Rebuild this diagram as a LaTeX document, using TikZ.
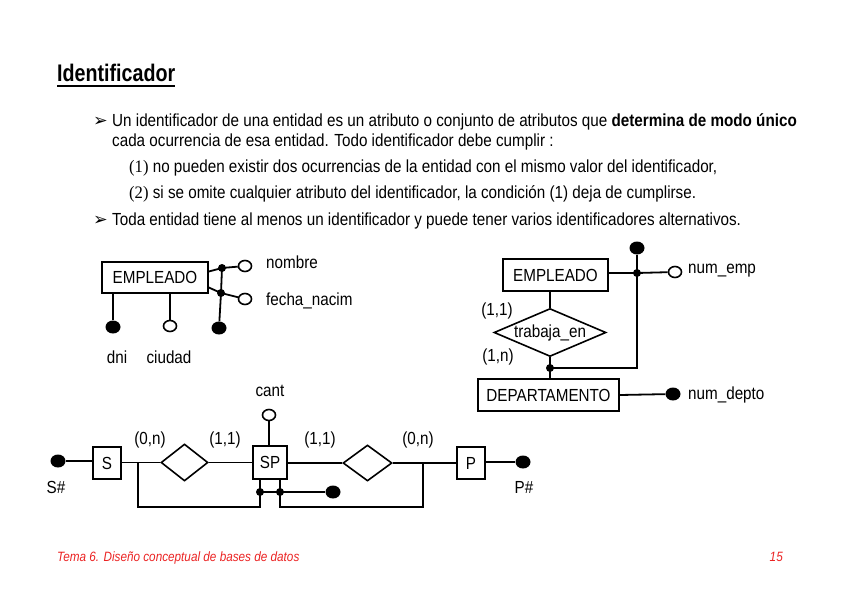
\documentclass[tikz,border=0pt]{standalone}
\usepackage{fontspec}
\setmainfont[FakeStretch=0.87]{Liberation Sans}
\newfontfamily\titlefont[FakeStretch=0.82]{Liberation Sans}
\newfontfamily\serifnum[FakeStretch=0.95]{Liberation Serif}
\newfontfamily\symfont{DejaVu Sans}
\usetikzlibrary{shapes.geometric,calc}
\definecolor{footred}{RGB}{235,35,35}
\begin{document}
\begin{tikzpicture}[x=1pt,y=-1pt,
  txt/.style={inner sep=0, anchor=base west, font=\fontsize{17.5}{20}\selectfont},
  bul/.style={inner sep=0, anchor=base west, font=\fontsize{17.5}{20}\symfont},
  lbl/.style={inner sep=0, font=\fontsize{17.5}{20}\selectfont},
  ent/.style={draw, line width=1.6pt, inner sep=0, font=\fontsize{17.5}{20}\selectfont},
  rel/.style={draw, diamond, line width=1.6pt, inner sep=0, aspect=2.3, font=\fontsize{17.5}{20}\selectfont},
  conn/.style={line width=1.8pt},
  jdot/.style={circle, fill, inner sep=0, minimum size=8pt},
  idatt/.style={ellipse, fill, inner sep=0, minimum width=15pt, minimum height=13pt},
  oatt/.style={ellipse, draw, line width=1.6pt, fill=white, inner sep=0, minimum width=13pt, minimum height=11pt}
]
\useasboundingbox (0,0) rectangle (849,600);

% ---- text ----
\node[inner sep=0, anchor=base west, font=\fontsize{24}{28}\titlefont\bfseries] (title) at (57,81) {Identificador};
\draw[line width=1.8pt] ($(title.base west)+(0,5)$) -- ($(title.base east)+(0,5)$);

\node[bul] (b1) at (93,126) {➢};
\node[txt] (l1) at (112,126) {Un identificador de una entidad es un atributo o conjunto de atributos que \textbf{determina de modo único}};
\node[txt] (l2) at (112,146) {cada ocurrencia de esa entidad. Todo identificador debe cumplir :};
\node[txt] (l3) at (129,172) {{\serifnum (1)} no pueden existir dos ocurrencias de la entidad con el mismo valor del identificador,};
\node[txt] (l4) at (129,198) {{\serifnum (2)} si se omite cualquier atributo del identificador, la condición (1) deja de cumplirse.};
\node[bul] (b2) at (93,225) {➢};
\node[txt] (l5) at (112,225) {Toda entidad tiene al menos un identificador y puede tener varios identificadores alternativos.};

\node[inner sep=0, anchor=base west, text=footred, font=\fontsize{13.5}{16}\selectfont\itshape] (foot) at (57,561) {Tema 6. Diseño conceptual de bases de datos};
\node[inner sep=0, anchor=base east, text=footred, font=\fontsize{13.5}{16}\selectfont\itshape] (page) at (783,561) {15};

% ---- diagram 1: EMPLEADO with attributes ----
\node[ent, minimum width=106pt, minimum height=31pt] (emp1) at (155,277.5) {EMPLEADO};
\node[idatt] (dni) at (113,327) {};
\node[oatt] (ciudad) at (170,326) {};
\node[jdot] (j1) at (222,268) {};
\node[jdot] (j2) at (221,293) {};
\node[oatt] (nombre) at (245,266) {};
\node[oatt] (fecha) at (245,299) {};
\node[idatt] (comp) at (219,328) {};
\draw[conn] (dni) -- (dni |- emp1.south);
\draw[conn] (ciudad) -- (ciudad |- emp1.south);
\draw[conn] ($(emp1.east)+(0,-6)$) -- (j1.center) -- (nombre);
\draw[conn] ($(emp1.east)+(0,10)$) -- (j2.center) -- (fecha);
\draw[conn] (j1.center) -- (j2.center) -- (comp);
\node[lbl, anchor=west] (tnombre) at (266,262) {nombre};
\node[lbl, anchor=west] (tfecha) at (266,301) {fecha\_nacim};
\node[lbl] (tdni) at (117,357) {dni};
\node[lbl] (tciudad) at (169,357) {ciudad};

% ---- diagram 2: EMPLEADO trabaja_en DEPARTAMENTO ----
\node[ent, minimum width=105pt, minimum height=32pt] (emp2) at (555.5,275) {EMPLEADO};
\node[rel, minimum width=112pt, minimum height=48pt] (trab) at (550,332.5) {\raisebox{-2.5pt}{trabaja\_en}};
\node[ent, minimum width=141pt, minimum height=32pt] (dep) at (548.5,395) {DEPARTAMENTO};
\node[jdot] (j3) at (550,368) {};
\node[idatt] (kid) at (637,248) {};
\node[jdot] (j4) at (637,273) {};
\node[oatt] (numemp) at (675,272) {};
\node[idatt] (numdep) at (673,394) {};
\draw[conn] (trab.north |- emp2.south) -- (trab.north);
\draw[conn] (trab.south) -- (j3.center) -- (j3 |- dep.north);
\draw[conn] (emp2.east |- j4) -- (j4.center) -- (numemp);
\draw[conn] (kid) -- (j4.center) |- (j3.center);
\draw[conn] (dep.east) -- (numdep);
\node[lbl, anchor=west] (tnumemp) at (688,271) {num\_emp};
\node[lbl, anchor=west] (tnumdep) at (688,395) {num\_depto};
\node[lbl] (c11) at (497,311) {(1,1)};
\node[lbl] (c1n) at (498,357) {(1,n)};

% ---- diagram 3: S - SP - P ----
\node[idatt] (sh) at (58,461) {};
\node[ent, minimum width=28pt, minimum height=32pt] (S) at (107,463) {S};
\node[rel, minimum width=47pt, minimum height=37pt] (r1) at (184.5,462.5) {};
\node[ent, minimum width=34pt, minimum height=33pt] (SP) at (270,462.5) {SP};
\node[rel, minimum width=49pt, minimum height=36pt] (r2) at (367.5,463) {};
\node[ent, minimum width=28pt, minimum height=32pt] (P) at (471,463) {P};
\node[idatt] (ph) at (523,462) {};
\node[oatt] (cant) at (269,415) {};
\node[jdot] (j5) at (260,492) {};
\node[jdot] (j6) at (280,492) {};
\node[idatt] (spk) at (333,492) {};
\coordinate (bl) at (138,507);
\coordinate (br) at (423,507);
\draw[conn] (sh) -- (S.west |- sh);
\draw[conn] (S.east |- r1) -- (r1.west);
\draw[conn] (r1.east) -- (SP.west |- r1);
\draw[conn] (SP.east |- r2) -- (r2.west);
\draw[conn] (r2.east) -- (P.west |- r2);
\draw[conn] (P.east |- ph) -- (ph);
\draw[conn] (cant) -- (cant |- SP.north);
\draw[conn] (bl |- r1) -- (bl) -| (j5.center |- SP.south);
\draw[conn] (br |- r2) -- (br) -| (j6.center |- SP.south);
\draw[conn] (j5.center) -- (spk);
\node[lbl] (sht) at (56,487) {S\#};
\node[lbl] (pht) at (524,487) {P\#};
\node[lbl] (cantt) at (270,391) {cant};
\node[lbl] (c0n1) at (150,440) {(0,n)};
\node[lbl] (c111) at (225,440) {(1,1)};
\node[lbl] (c112) at (320,440) {(1,1)};
\node[lbl] (c0n2) at (418,440) {(0,n)};
\end{tikzpicture}
\end{document}
